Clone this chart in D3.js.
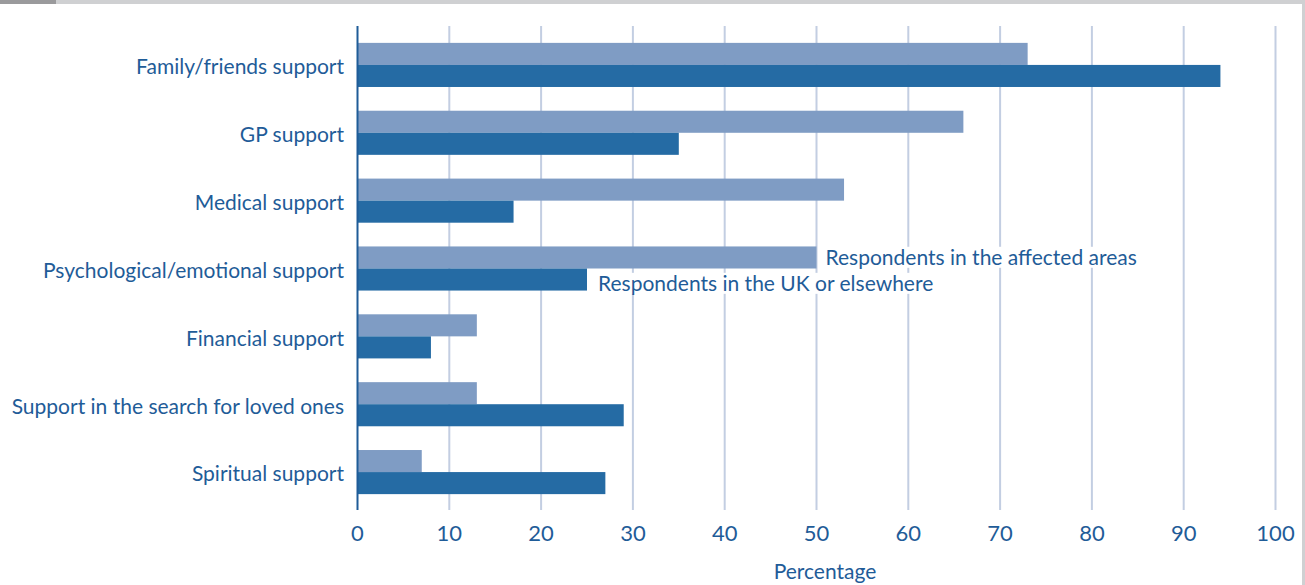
<!DOCTYPE html>
<html>
<head>
<meta charset="utf-8">
<script src="https://cdn.jsdelivr.net/npm/d3@7"></script>
<style>
  body { margin: 0; background: #fff; }
  svg text { font-family: Lato, "Noto Sans", sans-serif; fill: #1f5c98; }
</style>
</head>
<body>
<div id="chart"></div>
<script>
// >-----------------< Data >-------------------<
const categories = [
  "Family/friends support",
  "GP support",
  "Medical support",
  "Psychological/emotional support",
  "Financial support",
  "Support in the search for loved ones",
  "Spiritual support"
];
const affectedAreas = [73, 66, 53, 50, 13, 13, 7];
const ukElsewhere = [94, 35, 17, 25, 8, 29, 27];
const seriesNames = ["Respondents in the affected areas", "Respondents in the UK or elsewhere"];
const xTicks = [0, 10, 20, 30, 40, 50, 60, 70, 80, 90, 100];

// >-----------------< Config >-------------------<
const width = 1305, height = 585;
const colors = { light: "#7f9cc4", dark: "#256ba4", grid: "#c3cee2", axis: "#1f5c98" };

const svg = d3.select("#chart").append("svg")
  .attr("width", width)
  .attr("height", height);

// frame: grey strip on top and right edge
svg.append("rect").attr("x", 0).attr("y", 0).attr("width", width).attr("height", 4).attr("fill", "#cfd0d2");
svg.append("rect").attr("x", 0).attr("y", 0).attr("width", 56).attr("height", 4).attr("fill", "#9a9a9c");
svg.append("rect").attr("x", width - 3).attr("y", 0).attr("width", 3).attr("height", height).attr("fill", "#cfd0d2");

const x = d3.scaleLinear().domain([0, 100]).range([357.5, 1275.5]);
const y = d3.scaleBand().domain(categories).range([31, 506]).paddingInner(0.35).paddingOuter(0.175);
const plotTop = 26, plotBottom = 510;

// gridlines
svg.append("g")
  .selectAll("line")
  .data(xTicks.slice(1))
  .enter().append("line")
  .attr("x1", d => x(d)).attr("x2", d => x(d))
  .attr("y1", plotTop).attr("y2", plotBottom)
  .attr("stroke", colors.grid)
  .attr("stroke-width", 2);

// bars
const barH = y.bandwidth() / 2;
const rows = categories.map((c, i) => ({ cat: c, a: affectedAreas[i], u: ukElsewhere[i] }));

svg.append("g").selectAll("rect")
  .data(rows)
  .enter().append("rect")
  .attr("x", x(0))
  .attr("y", d => y(d.cat))
  .attr("width", d => x(d.a) - x(0))
  .attr("height", barH)
  .attr("fill", colors.light);

svg.append("g").selectAll("rect")
  .data(rows)
  .enter().append("rect")
  .attr("x", x(0))
  .attr("y", d => y(d.cat) + barH)
  .attr("width", d => x(d.u) - x(0))
  .attr("height", barH)
  .attr("fill", colors.dark);

// y axis line
svg.append("line")
  .attr("x1", x(0)).attr("x2", x(0))
  .attr("y1", plotTop).attr("y2", plotBottom)
  .attr("stroke", colors.axis)
  .attr("stroke-width", 2);

// category labels
svg.append("g").selectAll("text")
  .data(categories)
  .enter().append("text")
  .attr("x", 344)
  .attr("y", d => y(d) + y.bandwidth() / 2 + 4)
  .attr("text-anchor", "end")
  .attr("dominant-baseline", "middle")
  .attr("font-size", "21px")
  .text(d => d);

// x tick labels
svg.append("g").selectAll("text")
  .data(xTicks)
  .enter().append("text")
  .attr("x", d => x(d))
  .attr("y", 541)
  .attr("text-anchor", "middle")
  .attr("font-size", "22px")
  .text(d => d);

svg.append("text")
  .attr("x", 825)
  .attr("y", 579)
  .attr("text-anchor", "middle")
  .attr("font-size", "21px")
  .text("Percentage");

// inline series labels (on the psychological row)
const labelRow = rows[3];
const labels = [
  { text: seriesNames[0], x: x(labelRow.a) + 9, y: y(labelRow.cat) + barH / 2 + 2 },
  { text: seriesNames[1], x: x(labelRow.u) + 11, y: y(labelRow.cat) + barH * 1.5 + 6 }
];
labels.forEach(l => {
  const t = svg.append("text")
    .attr("x", l.x)
    .attr("y", l.y)
    .attr("dominant-baseline", "middle")
    .attr("font-size", "21px")
    .text(l.text);
  const bb = t.node().getBBox();
  svg.insert("rect", () => t.node())
    .attr("x", bb.x - 5)
    .attr("y", bb.y + 3)
    .attr("width", bb.width + 8)
    .attr("height", bb.height - 4)
    .attr("fill", "#fff");
});
</script>
</body>
</html>
